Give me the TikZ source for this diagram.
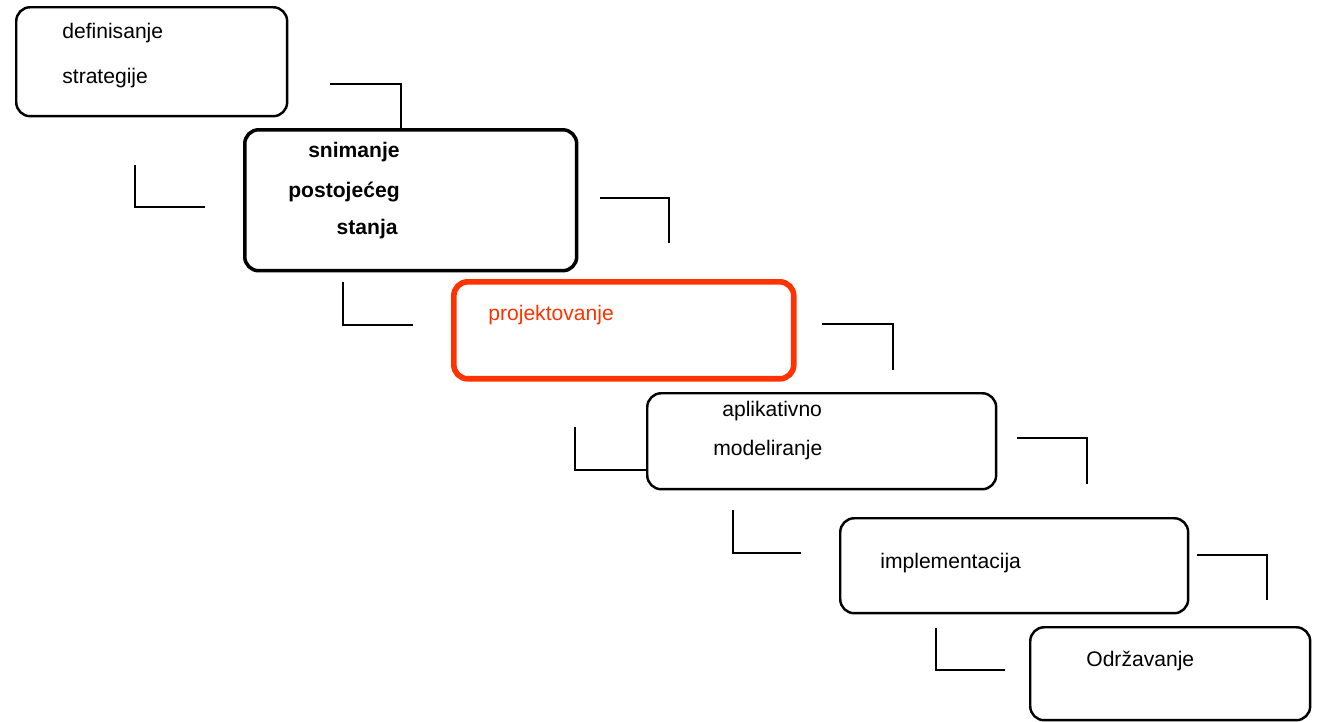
\documentclass[tikz,border=0pt]{standalone}
\usepackage{fontspec}
\setmainfont{Liberation Sans}
\definecolor{projred}{HTML}{FF3300}
\tikzset{
  phase/.style={draw, rounded corners=0.28cm, line width=1.4pt, anchor=north west, inner sep=0pt},
  lbl/.style={anchor=base west, inner sep=0pt, font=\fontsize{12}{14}\selectfont},
  link/.style={line width=1.5pt}
}
\begin{document}
\begin{tikzpicture}[x=0.02cm,y=-0.02cm]
      \useasboundingbox (0,0) rectangle (1317,721);
      % phases
      \node[phase, minimum width=5.42cm, minimum height=2.18cm] (strat) at (15,6) {};
      \node[phase, line width=2pt, minimum width=6.64cm, minimum height=2.82cm] (snim) at (243,128) {};
      \node[phase, draw=projred, line width=3.2pt, minimum width=6.8cm, minimum height=1.94cm] (proj) at (451,279) {};
      \node[phase, minimum width=6.98cm, minimum height=1.92cm] (model) at (646,392) {};
      \node[phase, minimum width=6.96cm, minimum height=1.9cm] (impl) at (839,517) {};
      \node[phase, minimum width=5.6cm, minimum height=1.86cm] (odrz) at (1029,626) {};
      % labels
      \node[lbl] (strat1) at (62,38) {definisanje};
      \node[lbl] (strat2) at (62,83) {strategije};
      \node[lbl, anchor=base east, font=\fontsize{12}{14}\selectfont\bfseries] (snim1) at (400,157) {snimanje};
      \node[lbl, anchor=base east, font=\fontsize{12}{14}\selectfont\bfseries] (snim2) at (400,197) {postojećeg};
      \node[lbl, anchor=base east, font=\fontsize{12}{14}\selectfont\bfseries] (snim3) at (398,234) {stanja};
      \node[lbl, text=projred] (proj1) at (488,320) {projektovanje};
      \node[lbl] (model1) at (722,416) {aplikativno};
      \node[lbl] (model2) at (713,455) {modeliranje};
      \node[lbl] (impl1) at (880,568) {implementacija};
      \node[lbl] (odrz1) at (1086,666) {Održavanje};
      % elbow ends
      \coordinate (a1) at (330,84);   \coordinate (a2) at (401,128);
      \coordinate (b1) at (135,165);  \coordinate (b2) at (205,207);
      \coordinate (c1) at (600,198);  \coordinate (c2) at (669,243);
      \coordinate (d1) at (343,282);  \coordinate (d2) at (413,325);
      \coordinate (e1) at (822,324);  \coordinate (e2) at (893,370);
      \coordinate (f1) at (575,427);  \coordinate (f2) at (646,470);
      \coordinate (g1) at (1017,438); \coordinate (g2) at (1087,484);
      \coordinate (h1) at (733,510);  \coordinate (h2) at (801,553);
      \coordinate (i1) at (1197,555); \coordinate (i2) at (1267,600);
      \coordinate (j1) at (936,628);  \coordinate (j2) at (1005,670);
      \begin{scope}[link]
        \draw (a1) -| (a2);
        \draw (b1) |- (b2);
        \draw (c1) -| (c2);
        \draw (d1) |- (d2);
        \draw (e1) -| (e2);
        \draw (f1) |- (f2);
        \draw (g1) -| (g2);
        \draw (h1) |- (h2);
        \draw (i1) -| (i2);
        \draw (j1) |- (j2);
      \end{scope}
    \end{tikzpicture}
\end{document}
